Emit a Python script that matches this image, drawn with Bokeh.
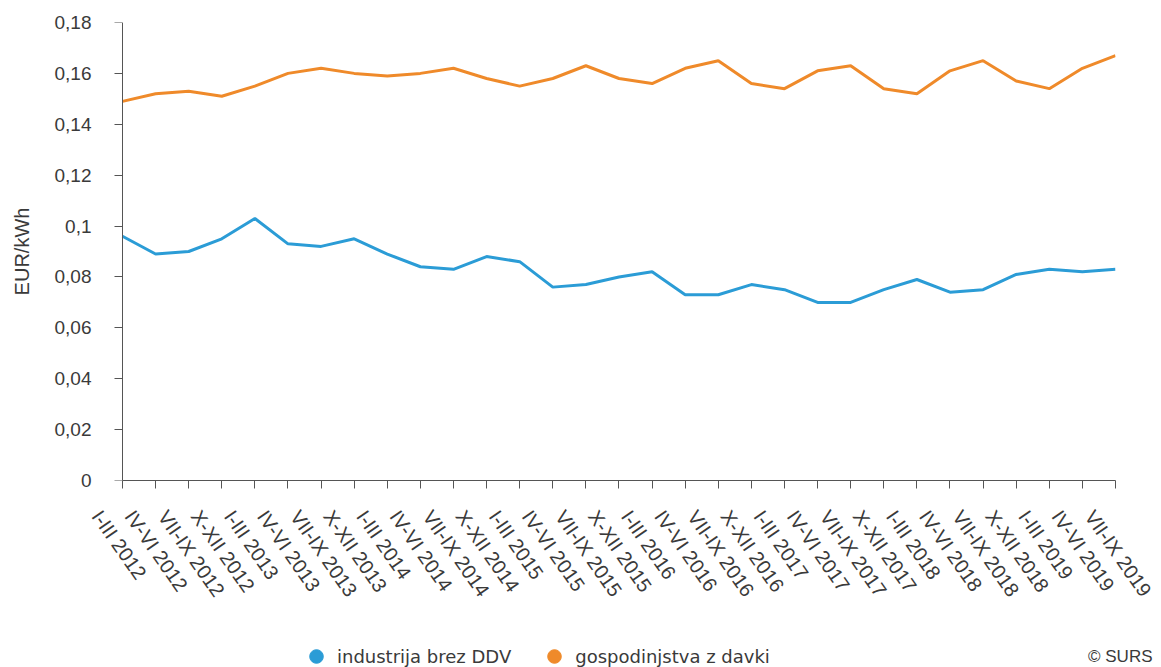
import math
from bokeh.plotting import figure
from bokeh.layouts import column
from bokeh.models import (Range1d, FixedTicker, LinearAxis, Legend, LegendItem, Label)
from bokeh.embed import file_html
from bokeh.resources import INLINE

categories = [
    "I-III 2012", "IV-VI 2012", "VII-IX 2012", "X-XII 2012",
    "I-III 2013", "IV-VI 2013", "VII-IX 2013", "X-XII 2013",
    "I-III 2014", "IV-VI 2014", "VII-IX 2014", "X-XII 2014",
    "I-III 2015", "IV-VI 2015", "VII-IX 2015", "X-XII 2015",
    "I-III 2016", "IV-VI 2016", "VII-IX 2016", "X-XII 2016",
    "I-III 2017", "IV-VI 2017", "VII-IX 2017", "X-XII 2017",
    "I-III 2018", "IV-VI 2018", "VII-IX 2018", "X-XII 2018",
    "I-III 2019", "IV-VI 2019", "VII-IX 2019",
]
industrija = [0.096, 0.089, 0.090, 0.095, 0.103, 0.093, 0.092, 0.095,
              0.089, 0.084, 0.083, 0.088, 0.086, 0.076, 0.077, 0.080,
              0.082, 0.073, 0.073, 0.077, 0.075, 0.070, 0.070, 0.075,
              0.079, 0.074, 0.075, 0.081, 0.083, 0.082, 0.083]
gospodinjstva = [0.149, 0.152, 0.153, 0.151, 0.155, 0.160, 0.162, 0.160,
                 0.159, 0.160, 0.162, 0.158, 0.155, 0.158, 0.163, 0.158,
                 0.156, 0.162, 0.165, 0.156, 0.154, 0.161, 0.163, 0.154,
                 0.152, 0.161, 0.165, 0.157, 0.154, 0.162, 0.167]
y_ticks = [0, 0.02, 0.04, 0.06, 0.08, 0.1, 0.12, 0.14, 0.16, 0.18]
y_tick_labels = ["0", "0,02", "0,04", "0,06", "0,08", "0,1", "0,12", "0,14", "0,16", "0,18"]
series_names = ["industrija brez DDV", "gospodinjstva z davki"]
y_title = "EUR/kWh"
source_note = "\u00a9 SURS"

BLUE = "#2b9cd6"
ORANGE = "#ef8a2a"
FONT = "Liberation Sans"
TXT = "#3a3a3a"
AX = "#555555"

idx = list(range(len(categories)))
n_last = len(categories) - 1

# the plot frame starts a bit left of the first category so that the rotated
# category labels can begin left of their ticks, as in the original
LEAD = 0.785

p = figure(width=1161, height=632, output_backend="svg", toolbar_location=None,
           x_range=Range1d(-LEAD, n_last), y_range=Range1d(0, 0.18),
           min_border_left=96, min_border_right=46, min_border_top=22,
           min_border_bottom=152)
p.frame_align = False
p.outline_line_color = None
p.xgrid.visible = False
p.ygrid.visible = False
p.background_fill_color = "white"
p.border_fill_color = "white"

p.line(idx, gospodinjstva, color=ORANGE, line_width=3)
p.line(idx, industrija, color=BLUE, line_width=3)

# y axis labels + title (left panel)
ya = p.yaxis[0]
ya.ticker = FixedTicker(ticks=y_ticks)
ya.major_label_overrides = {t: l for t, l in zip(y_ticks, y_tick_labels)}
ya.axis_line_color = None
ya.major_tick_line_color = None
ya.minor_tick_line_color = None
ya.major_tick_in = 0
ya.major_tick_out = 0
ya.major_label_standoff = 5
ya.major_label_text_font = FONT
ya.major_label_text_font_size = "19px"
ya.major_label_text_color = TXT
ya.axis_label = y_title
ya.axis_label_text_font = FONT
ya.axis_label_text_font_size = "20px"
ya.axis_label_text_font_style = "normal"
ya.axis_label_text_color = TXT
ya.axis_label_standoff = 19

# y axis line + ticks at the first category
yl = LinearAxis(ticker=FixedTicker(ticks=y_ticks), fixed_location=0)
yl.axis_line_color = AX
yl.major_tick_line_color = AX
yl.minor_tick_line_color = None
yl.major_tick_in = 0
yl.major_tick_out = 8
yl.major_label_text_color = None
yl.major_label_text_font_size = "1px"
p.add_layout(yl, "left")

# x axis: line + ticks only
xa = p.xaxis[0]
xa.ticker = FixedTicker(ticks=idx)
xa.bounds = (0, n_last)
xa.minor_tick_line_color = None
xa.major_tick_in = 0
xa.major_tick_out = 8
xa.axis_line_color = AX
xa.major_tick_line_color = AX
xa.major_label_text_color = None
xa.major_label_text_font_size = "1px"
xa.major_label_standoff = 0

# x category labels: second axis, shifted so labels start left of the ticks
p.extra_x_ranges = {"lab": Range1d(0, n_last + LEAD)}
la = LinearAxis(x_range_name="lab", ticker=FixedTicker(ticks=idx))
la.major_label_overrides = {i: c for i, c in zip(idx, categories)}
la.major_label_orientation = -math.radians(55)
la.axis_line_color = None
la.major_tick_line_color = None
la.minor_tick_line_color = None
la.major_label_standoff = 18
la.major_label_text_font = FONT
la.major_label_text_font_size = "20px"
la.major_label_text_color = TXT
p.add_layout(la, "below")

# bottom strip with legend and source note
p2 = figure(width=1161, height=35, output_backend="svg", toolbar_location=None,
            x_range=Range1d(0, 1), y_range=Range1d(0, 1),
            min_border_left=0, min_border_right=0, min_border_top=0,
            min_border_bottom=0)
p2.frame_align = False
p2.axis.visible = False
p2.grid.visible = False
p2.outline_line_color = None
p2.background_fill_color = "white"
p2.border_fill_color = "white"

# zero-size markers: only their legend swatches show
rb = p2.scatter(idx, industrija, marker="circle", size=0, color=BLUE)
ro = p2.scatter(idx, gospodinjstva, marker="circle", size=0, color=ORANGE)
legend = Legend(items=[LegendItem(label=series_names[0], renderers=[rb]),
                       LegendItem(label=series_names[1], renderers=[ro])],
                orientation="horizontal", location=(299, -6),
                glyph_width=34, glyph_height=34, label_standoff=4, spacing=26,
                padding=0, margin=0, border_line_color=None,
                background_fill_alpha=0,
                label_text_font="DejaVu Sans", label_text_font_size="18px",
                label_text_color=TXT)
p2.add_layout(legend, "center")

note = Label(x=1152, y=11, x_units="screen", y_units="screen", text=source_note,
             text_align="right", text_baseline="middle", text_font=FONT,
             text_font_size="17px", text_color=TXT)
p2.add_layout(note)

layout = column(p, p2, spacing=0)
open("out.html", "w").write(file_html(layout, INLINE))
